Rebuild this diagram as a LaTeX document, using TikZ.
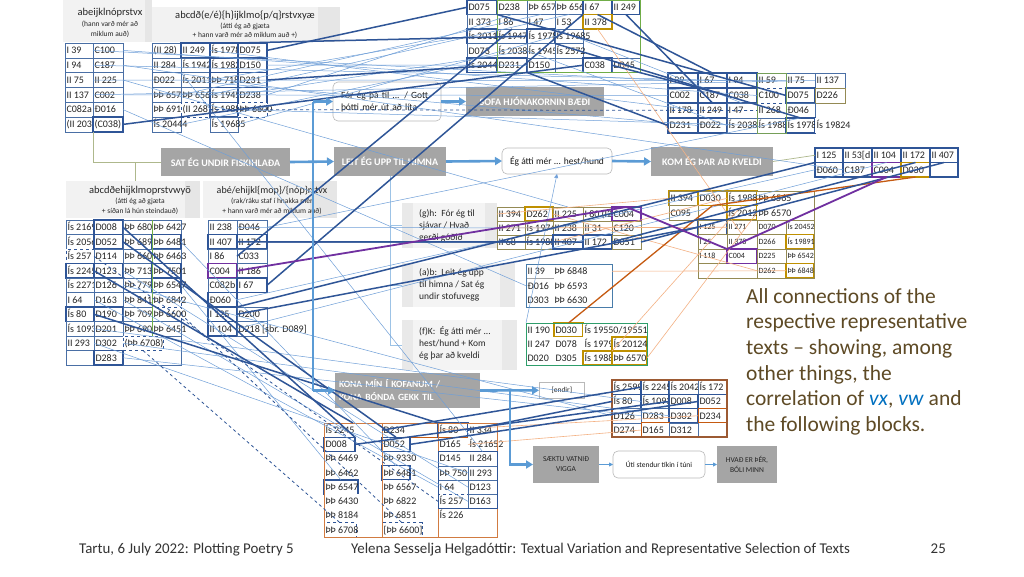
\documentclass[tikz,border=0pt]{standalone}
\usepackage{fontspec}
\setmainfont{Carlito}
\usetikzlibrary{arrows.meta}
\definecolor{dkb}{HTML}{2F5597}
\definecolor{ltb}{HTML}{6F9FD8}
\definecolor{flowb}{HTML}{5B9BD5}
\definecolor{pur}{HTML}{7030A0}
\definecolor{orgk}{HTML}{C55A11}
\definecolor{orgl}{HTML}{F4B183}
\definecolor{goldc}{HTML}{BF9000}
\definecolor{olivec}{HTML}{948A54}
\definecolor{grn}{HTML}{70AD47}
\definecolor{tealc}{HTML}{2E9E6B}
\definecolor{brnc}{HTML}{9C5A33}
\definecolor{procg}{HTML}{A5A5A5}
\definecolor{txtbr}{HTML}{5E4A25}
\definecolor{vxb}{HTML}{0070C0}
\definecolor{celltext}{HTML}{262626}
\definecolor{cellb}{HTML}{4A6FA5}
\definecolor{hdrg}{HTML}{F2F2F2}
\definecolor{hdrs}{HTML}{E6E6E6}
\definecolor{treeg}{HTML}{AEB88C}
\definecolor{treeb}{HTML}{9DC3E6}
\newcommand\tcel[6][]{\node[cell,minimum width=#5pt,#1] (#2) at (#3,#4) {\hbox to \dimexpr#5pt-3pt\relax{\vphantom{Ág}#6\hss}};}
\begin{document}
\begin{tikzpicture}[x=1pt,y=-1pt,
  cell/.style={anchor=north west, draw=cellb, line width=0.5pt, fill=white, minimum height=14.5pt, inner xsep=1.5pt, inner ysep=0pt, outer sep=0pt, font=\fontsize{10}{11}\selectfont, text=celltext},
  ha/.style={minimum height=14.8pt}, hr/.style={minimum height=15pt}, hg/.style={minimum height=14pt},
  hu/.style={minimum height=14.25pt}, hv/.style={minimum height=14.3pt},
  tk/.style={draw=dkb, line width=1.4pt}, gd/.style={draw=goldc, line width=1.2pt},
  pu/.style={draw=pur, line width=1.5pt}, ob/.style={draw=orgk, line width=1pt},
  ds/.style={draw=dkb, line width=0.9pt, dashed}, nb/.style={draw=none},
  ol/.style={draw=olivec, line width=0.5pt}, sm/.style={font=\fontsize{8}{9}\selectfont},
  hdr/.style={anchor=north west, fill=hdrg, draw=none, inner sep=0pt, outer sep=0pt},
  hstrip/.style={anchor=north west, fill=hdrs, draw=none, inner sep=0pt, outer sep=0pt},
  htx/.style={inner sep=0pt, text=celltext, font=\fontsize{10.5}{12}\selectfont},
  hsx/.style={inner sep=0pt, text=celltext, font=\fontsize{7.5}{9}\selectfont},
  gbx/.style={anchor=north west, fill=gray!9, draw=none, inner sep=0pt, outer sep=0pt},
  gst/.style={anchor=north west, fill=gray!17, draw=none, inner sep=0pt, outer sep=0pt},
  btx/.style={anchor=north west, align=left, inner sep=0pt, text=celltext, font=\fontsize{9.5}{12}\selectfont},
  proc/.style={anchor=north west, fill=procg, text=white, inner sep=0pt, outer sep=0pt, font=\bfseries\fontsize{10}{12}\selectfont},
  rbx/.style={anchor=north west, draw=gray!55, line width=0.6pt, rounded corners=5pt, fill=white, inner sep=0pt, outer sep=0pt, text=black!90, font=\fontsize{9.5}{12}\selectfont},
  flow/.style={draw=flowb, line width=2.6pt, -{Triangle[length=7pt,width=8pt]}},
  flowl/.style={draw=flowb, line width=2.6pt},
  sflow/.style={draw=flowb, line width=0.8pt, -{Triangle[length=4pt,width=4pt]}},
  tree/.style={draw=treeg, line width=0.7pt},
  treel/.style={draw=treeb, line width=0.8pt},
  dkl/.style={draw=dkb, line width=1.5pt},
  ltl/.style={draw=ltb, line width=0.5pt},
  dsl/.style={draw=dkb, line width=0.8pt, dashed},
  pul/.style={draw=pur, line width=1.8pt},
  okl/.style={draw=orgk, line width=1.3pt},
  oll/.style={draw=orgl, line width=0.6pt},
  bigt/.style={anchor=base west, inner sep=0pt, text=txtbr, font=\fontsize{21.5}{26}\selectfont},
  foot/.style={inner sep=0pt, text=black!80, font=\fontsize{14.9}{17}\selectfont}
]
\useasboundingbox (0,0) rectangle (1024,576);
\fill[white] (0,0) rectangle (1024,576);

% ---------- headers ----------
\node[hdr, minimum width=82pt, minimum height=42pt] (h1) at (63,0) {};
\node[hstrip, minimum width=7pt, minimum height=42pt] (h1s) at (145,0) {};
\node[htx] (h1a) at (110,13) {abeijklnóprstvx};
\node[hsx] (h1b) at (110,24.5) {(hann varð mér að};
\node[hsx] (h1c) at (110,34) {miklum auð)};
\node[hdr, minimum width=166pt, minimum height=35pt] (h2) at (152,7) {};
\node[hstrip, minimum width=22pt, minimum height=35pt] (h2s) at (318,7) {};
\node[htx] (h2a) at (245,15.5) {abcdð(e/é)\{h\}ijklmo\{p/q\}rstvxyæ};
\node[hsx] (h2b) at (245,26.5) {(átti ég að gjæta};
\node[hsx] (h2c) at (245,35.5) {+ hann varð mér að miklum auð +)};
\node[hdr, minimum width=119pt, minimum height=37pt] (h3) at (66,181) {};
\node[hstrip, minimum width=15pt, minimum height=37pt] (h3s) at (185,181) {};
\node[htx] (h3a) at (140,190.5) {abcdðehijklmoprstvwyö};
\node[hsx] (h3b) at (140,201) {(átti ég að gjæta};
\node[hsx] (h3c) at (140,211) {+ síðan lá hún steindauð)};
\node[hdr, minimum width=107pt, minimum height=37pt] (h4) at (203,181) {};
\node[hstrip, minimum width=27pt, minimum height=37pt] (h4s) at (310,181) {};
\node[htx, font=\fontsize{10}{12}\selectfont] (h4a) at (272,190.5) {abé/ehijkl\{mop\}/\{nóp\}rstvx};
\node[hsx] (h4b) at (272,201) {(rak/ráku staf í hnakka mér};
\node[hsx] (h4c) at (272,211) {+ hann varð mér að miklum auð)};

% ---------- gray text boxes ----------
\node[gbx, minimum width=95pt, minimum height=45pt] (gh) at (402,203) {};
\node[gst, minimum width=11pt, minimum height=45pt] (ghl) at (402,203) {};
\node[gst, minimum width=12pt, minimum height=45pt] (ghr) at (485,203) {};
\node[btx] (ght) at (419,209.5) {(g)h:\ \ Fór ég til\\sjávar / Hvað\\gerði góðið};
\node[gbx, minimum width=113pt, minimum height=44pt] (ab) at (402,263) {};
\node[gst, minimum width=11pt, minimum height=44pt] (abl) at (402,263) {};
\node[gst, minimum width=15pt, minimum height=44pt] (abr) at (500,263) {};
\node[btx] (abt) at (419,268) {(a)b:\ \ Leit ég upp\\til himna / Sat ég\\undir stofuvegg};
\node[gbx, minimum width=115pt, minimum height=50pt] (fk) at (402,320) {};
\node[gst, minimum width=11pt, minimum height=50pt] (fkl) at (402,320) {};
\node[gst, minimum width=15pt, minimum height=50pt] (fkr) at (502,320) {};
\node[btx] (fkt) at (419,326) {(f)K:\ \ Ég átti mér ...\\hest/hund + Kom\\ég þar að kveldi};

% ---------- table a ----------
\tcel[ha]{a11}{65}{43}{28}{I 39}\tcel[ha]{a12}{93}{43}{30}{C100}
\tcel[ha]{a21}{65}{57.8}{28}{I 94}\tcel[ha]{a22}{93}{57.8}{30}{C187}
\tcel[ha]{a31}{65}{72.6}{28}{II 75}\tcel[ha]{a32}{93}{72.6}{30}{II 225}
\tcel[ha]{a41}{65}{87.4}{28}{II 137}\tcel[ha]{a42}{93}{87.4}{30}{C002}
\tcel[ha]{a51}{65}{102.2}{28}{C082a}\tcel[ha]{a52}{93}{102.2}{30}{Ð016}
\tcel[ha]{a61}{65}{117}{28}{(II 203}\tcel[ha,tk]{a62}{93}{117}{30}{(C038)}
% ---------- table b ----------
\tcel[ha]{b11}{152}{43}{29}{(II 28)}\tcel[ha,tk]{b12}{181}{43}{29}{II 249}\tcel[ha,tk]{b13}{210}{43}{28}{Ís 1978}\tcel[ha,tk]{b14}{238}{43}{29}{D075}
\tcel[ha]{b21}{152}{57.8}{29}{II 284}\tcel[ha]{b22}{181}{57.8}{29}{Ís 1942}\tcel[ha,tk]{b23}{210}{57.8}{28}{Ís 1982}\tcel[ha,tk]{b24}{238}{57.8}{29}{D150}
\tcel[ha]{b31}{152}{72.6}{29}{Ð022}\tcel[ha]{b32}{181}{72.6}{29}{Ís 2011}\tcel[ha,tk]{b33}{210}{72.6}{28}{ÞÞ 718}\tcel[ha,tk]{b34}{238}{72.6}{29}{D231}
\tcel[ha]{b41}{152}{87.4}{29}{ÞÞ 657}\tcel[ha]{b42}{181}{87.4}{29}{ÞÞ 656}\tcel[ha,tk]{b43}{210}{87.4}{28}{Ís 1945}\tcel[ha,tk]{b44}{238}{87.4}{29}{D238}
\tcel[ha]{b51}{152}{102.2}{29}{ÞÞ 691}\tcel[ha,ds]{b52}{181}{102.2}{29}{(II 268)}\tcel[ha,tk]{b53}{210}{102.2}{28}{Ís 1988}\tcel[ha,ds]{b54}{238}{102.2}{29}{ÞÞ 6600}
\tcel[ha]{b61}{152}{117}{29}{Ís 20444}\tcel[ha]{b63}{210}{117}{28}{Ís 19685}
% ---------- table m ----------
\tcel[tk]{m11}{467}{0}{30}{D075}\tcel{m12}{497}{0}{30}{D238}\tcel{m13}{527}{0}{28}{ÞÞ 657}\tcel{m14}{555}{0}{28}{ÞÞ 656}\tcel[tk]{m15}{583}{0}{29}{I 67}\tcel[tk]{m16}{612}{0}{28}{II 249}
\tcel{m21}{467}{14.5}{30}{II 373}\tcel{m22}{497}{14.5}{30}{I 86}\tcel{m23}{527}{14.5}{28}{I 47}\tcel{m24}{555}{14.5}{28}{I 53}\tcel[gd]{m25}{583}{14.5}{29}{II 378}
\tcel[tk]{m31}{467}{29}{30}{Ís 2011}\tcel{m32}{497}{29}{30}{Ís 1947}\tcel[tk]{m33}{527}{29}{28}{Ís 1978}\tcel{m34}{555}{29}{28}{Ís 19685}
\tcel{m41}{467}{43.5}{30}{D073}\tcel{m42}{497}{43.5}{30}{Ís 2038}\tcel{m43}{527}{43.5}{28}{Ís 1945}\tcel{m44}{555}{43.5}{28}{Ís 2572}
\tcel[tk]{m51}{467}{58}{30}{Ís 2044}\tcel[tk]{m52}{497}{58}{30}{D231}\tcel{m53}{527}{58}{28}{D150}\tcel[tk]{m55}{583}{58}{29}{C038}\tcel{m56}{612}{58}{28}{D045}
\draw[grn, line width=0.8pt] (m12.north west) rectangle (m56.south east);
% ---------- table r ----------
\tcel[hr,tk]{r11}{668}{73}{30}{I 39}\tcel[hr,tk]{r12}{698}{73}{29}{I 67}\tcel[hr,tk]{r13}{727}{73}{30}{I 94}\tcel[hr]{r14}{757}{73}{29}{II 59}\tcel[hr]{r15}{786}{73}{29}{II 75}\tcel[hr]{r16}{815}{73}{30}{II 137}
\tcel[hr,tk]{r21}{668}{88}{30}{C002}\tcel[hr,tk]{r22}{698}{88}{29}{C187}\tcel[hr,tk]{r23}{727}{88}{30}{C038}\tcel[hr,ds]{r24}{757}{88}{29}{C100}\tcel[hr,tk]{r25}{786}{88}{29}{D075}\tcel[hr,ol]{r26}{815}{88}{30}{D226}
\tcel[hr,tk]{r31}{668}{103}{30}{II 178}\tcel[hr,tk]{r32}{698}{103}{29}{II 249}\tcel[hr]{r33}{727}{103}{30}{I 47}\tcel[hr,ds]{r34}{757}{103}{29}{II 268}\tcel[hr]{r35}{786}{103}{29}{Ð046}
\tcel[hr,tk]{r41}{668}{118}{30}{D231}\tcel[hr,tk]{r42}{698}{118}{29}{Ð022}\tcel[hr]{r43}{727}{118}{30}{Ís 2038}\tcel[hr]{r44}{757}{118}{29}{Ís 1988}\tcel[hr,tk]{r45}{786}{118}{29}{Ís 1978}\tcel[hr,nb]{r46}{815}{118}{30}{Ís 19824}
\draw[grn!70!gray, line width=1pt] (r14.north west) rectangle (r44.south east);
% ---------- table c ----------
\tcel{c11}{66}{220}{28}{Ís 2169}\tcel[tk]{c12}{94}{220}{29}{D008}\tcel{c13}{123}{220}{29}{ÞÞ 680}\tcel{c14}{152}{220}{29}{ÞÞ 6427}
\tcel{c21}{66}{234.5}{28}{Ís 2056}\tcel[tk]{c22}{94}{234.5}{29}{D052}\tcel{c23}{123}{234.5}{29}{ÞÞ 689}\tcel[tk]{c24}{152}{234.5}{29}{ÞÞ 6481}
\tcel[ds]{c31}{66}{249}{28}{Ís 257}\tcel{c32}{94}{249}{29}{D114}\tcel{c33}{123}{249}{29}{ÞÞ 660}\tcel{c34}{152}{249}{29}{ÞÞ 6463}
\tcel[tk]{c41}{66}{263.5}{28}{Ís 2245}\tcel[tk]{c42}{94}{263.5}{29}{D123}\tcel{c43}{123}{263.5}{29}{ÞÞ 713}\tcel[tk]{c44}{152}{263.5}{29}{ÞÞ 7501}
\tcel{c51}{66}{278}{28}{Ís 2271}\tcel{c52}{94}{278}{29}{D126}\tcel{c53}{123}{278}{29}{ÞÞ 779}\tcel[tk]{c54}{152}{278}{29}{ÞÞ 6547}
\tcel{c61}{66}{292.5}{28}{I 64}\tcel{c62}{94}{292.5}{29}{D163}\tcel{c63}{123}{292.5}{29}{ÞÞ 841}\tcel[ds]{c64}{152}{292.5}{29}{ÞÞ 6842}
\tcel[tk]{c71}{66}{307}{28}{Ís 80}\tcel[tk]{c72}{94}{307}{29}{D190}\tcel{c73}{123}{307}{29}{ÞÞ 709}\tcel[ds]{c74}{152}{307}{29}{ÞÞ 6600}
\tcel{c81}{66}{321.5}{28}{Ís 1093}\tcel{c82}{94}{321.5}{29}{D201}\tcel{c83}{123}{321.5}{29}{ÞÞ 690}\tcel{c84}{152}{321.5}{29}{ÞÞ 6451}
\tcel{c91}{66}{336}{28}{II 293}\tcel{c92}{94}{336}{29}{D302}\tcel[ds]{c93}{123}{336}{40}{(ÞÞ 6708)}
\tcel{c101}{66}{350.5}{28}{}\tcel[tk]{c102}{94}{350.5}{29}{D283}
\draw[cellb, line width=0.5pt] (c102.south east) -- (c14.north east |- c102.south) -- (c14.north east |- c93.north);
\draw[grn, line width=0.8pt] (c14.north west) -- (c84.south west);
% ---------- table d ----------
\tcel{d11}{208}{220}{29}{II 238}\tcel{d12}{237}{220}{30}{Ð046}
\tcel[tk]{d21}{208}{234.5}{29}{II 407}\tcel[tk]{d22}{237}{234.5}{30}{II 172}
\tcel{d31}{208}{249}{29}{I 86}\tcel{d32}{237}{249}{30}{C033}
\tcel[pu]{d41}{208}{263.5}{29}{C004}\tcel{d42}{237}{263.5}{30}{II 186}
\tcel{d51}{208}{278}{29}{C082b}\tcel[tk]{d52}{237}{278}{30}{I 67}
\tcel[tk]{d61}{208}{292.5}{29}{Ð060}
\tcel[tk]{d71}{208}{307}{29}{I 125}\tcel{d72}{237}{307}{30}{D200}
\tcel[tk]{d81}{208}{321.5}{29}{II 104}\tcel{d82}{237}{321.5}{30}{D218 [sbr. D089]}
% ---------- table g ----------
\tcel[hg,ol]{g11}{497}{207}{28}{II 394}\tcel[hg,gd]{g12}{525}{207}{28}{D262}\tcel[hg,ol]{g13}{553}{207}{30}{II 225}\tcel[hg,ol]{g14}{583}{207}{29}{I 80 (I2}\tcel[hg,pu]{g15}{612}{207}{29}{C004}
\tcel[hg,ol]{g21}{497}{221}{28}{II 271}\tcel[hg,ol]{g22}{525}{221}{28}{Ís 1974}\tcel[hg,ol]{g23}{553}{221}{30}{II 238}\tcel[hg,ol]{g24}{583}{221}{29}{II 31}\tcel[hg,ol]{g25}{612}{221}{29}{C120}
\tcel[hg,ol]{g31}{497}{235}{28}{II 68}\tcel[hg,ol]{g32}{525}{235}{28}{Ís 1988}\tcel[hg,tk]{g33}{553}{235}{30}{II 407}\tcel[hg,tk]{g34}{583}{235}{29}{II 172}\tcel[hg,ol]{g35}{612}{235}{29}{D051}
% ---------- table e ----------
\tcel[draw=gray!70]{e11}{526}{264}{27}{II 39}\tcel[nb]{e12}{553}{264}{59}{ÞÞ 6848}
\tcel[draw=gray!70]{e21}{526}{278.5}{27}{Ð016}\tcel[nb]{e22}{553}{278.5}{59}{ÞÞ 6593}
\tcel[nb]{e31}{526}{293}{27}{D303}\tcel[nb]{e32}{553}{293}{59}{ÞÞ 6630}
\draw[flowb!80!black, line width=0.9pt] (e11.north west) rectangle (e32.south east);
% ---------- table f ----------
\tcel[hg,nb]{f11}{526}{323}{28}{II 190}\tcel[hg,gd]{f12}{554}{323}{29}{D030}\tcel[hg,nb]{f13}{583}{323}{64}{Ís 19550/19551}
\tcel[hg,nb]{f21}{526}{337}{28}{II 247}\tcel[hg,nb]{f22}{554}{337}{29}{D078}\tcel[hg,nb]{f23}{583}{337}{29}{Ís 1979}\tcel[hg,gd]{f24}{612}{337}{35}{Ís 20124}
\tcel[hg,nb]{f31}{526}{351}{28}{D020}\tcel[hg,nb]{f32}{554}{351}{29}{D305}\tcel[hg,gd]{f33}{583}{351}{29}{Ís 1988}\tcel[hg,gd]{f34}{612}{351}{35}{ÞÞ 6570}
\draw[tealc, line width=0.9pt] (f11.north west) rectangle (f34.south east);
% ---------- table t ----------
\tcel[tk]{t11}{815}{148}{28}{I 125}\tcel[tk]{t12}{843}{148}{29}{II 53[d}\tcel[tk]{t13}{872}{148}{29}{II 104}\tcel[tk]{t14}{901}{148}{29}{II 172}\tcel[tk]{t15}{930}{148}{28}{II 407}
\tcel[tk]{t21}{815}{162.5}{28}{Ð060}\tcel[tk]{t22}{843}{162.5}{29}{C187}\tcel[pu]{t23}{872}{162.5}{29}{C004}\tcel[gd]{t24}{901}{162.5}{29}{D030}\tcel[tk]{t25}{930}{162.5}{28}{}
% ---------- table s ----------
\tcel[gd]{s11}{669}{191}{29}{II 394}\tcel[gd,line width=1.6pt]{s12}{698}{191}{29}{D030}\tcel[gd]{s13}{727}{191}{30}{Ís 1988}\tcel[nb]{s14}{757}{191}{57}{ÞÞ 6565}
\tcel[ol]{s21}{669}{205.5}{29}{C095}\tcel[gd]{s23}{727}{205.5}{30}{Ís 2012}\tcel[nb]{s24}{757}{205.5}{57}{ÞÞ 6570}
\tcel[sm,tk]{s32}{698}{220}{29}{I 125}\tcel[sm,ol]{s33}{727}{220}{30}{II 271}\tcel[sm,ol]{s34}{757}{220}{29}{D070}\tcel[sm,ol]{s35}{786}{220}{28}{Ís 20452}
\tcel[sm,ol]{s42}{698}{234.5}{29}{I 25}\tcel[sm,ol]{s43}{727}{234.5}{30}{II 378}\tcel[sm,ol]{s44}{757}{234.5}{29}{D266}\tcel[sm,gd]{s45}{786}{234.5}{28}{Ís 19891}
\tcel[sm,ol]{s52}{698}{249}{29}{I 118}\tcel[sm,pu]{s53}{727}{249}{30}{C004}\tcel[sm,ol]{s54}{757}{249}{29}{D225}\tcel[sm,ol]{s55}{786}{249}{28}{ÞÞ 6542}
\tcel[sm,ol]{s64}{757}{263.5}{29}{D262}\tcel[sm,gd]{s65}{786}{263.5}{28}{ÞÞ 6848}
\draw[olivec, line width=1pt] (s11.north west) rectangle (s24.south east);
\draw[olivec, line width=1pt] (s32.north west) rectangle (s65.south east);
% ---------- table u ----------
\tcel[hu,nb]{u11}{324}{423}{58}{Ís 2245}\tcel[hu,ob]{u12}{382}{423}{56}{D234}\tcel[hu,tk]{u13}{438}{423}{30}{Ís 80}\tcel[hu,nb]{u14}{468}{423}{29}{II 334}
\tcel[hu,tk]{u21}{324}{437.25}{31}{D008}\tcel[hu,tk]{u22}{382}{437.25}{28}{D052}\tcel[hu,ob]{u23}{438}{437.25}{30}{D165}\tcel[hu,nb]{u24}{468}{437.25}{29}{Ís 21652}
\tcel[hu,nb]{u31}{324}{451.5}{58}{ÞÞ 6469}\tcel[hu,nb]{u32}{382}{451.5}{56}{ÞÞ 9330}\tcel[hu,nb]{u33}{438}{451.5}{30}{D145}\tcel[hu,nb]{u34}{468}{451.5}{29}{II 284}
\tcel[hu,nb]{u41}{324}{465.75}{58}{ÞÞ 6462}\tcel[hu,tk]{u42}{382}{465.75}{28}{ÞÞ 6481}\tcel[hu]{u43}{438}{465.75}{30}{ÞÞ 750}\tcel[hu]{u44}{468}{465.75}{29}{II 293}
\tcel[hu,tk]{u51}{324}{480}{34}{ÞÞ 6547}\tcel[hu,nb]{u52}{382}{480}{56}{ÞÞ 6567}\tcel[hu]{u53}{438}{480}{30}{I 64}\tcel[hu]{u54}{468}{480}{29}{D123}
\tcel[hu,nb]{u61}{324}{494.25}{58}{ÞÞ 6430}\tcel[hu,nb]{u62}{382}{494.25}{56}{ÞÞ 6822}\tcel[hu,ds]{u63}{438}{494.25}{30}{Ís 257}\tcel[hu]{u64}{468}{494.25}{29}{D163}
\tcel[hu,nb]{u71}{324}{508.5}{58}{ÞÞ 8184}\tcel[hu,nb]{u72}{382}{508.5}{56}{ÞÞ 6851}\tcel[hu,nb]{u73}{438}{508.5}{30}{Ís 226}
\tcel[hu,ds]{u81}{324}{522.75}{32}{ÞÞ 6708}\tcel[hu,ds]{u82}{382}{522.75}{40}{[ÞÞ 6600]}
\draw[orgk!80, line width=0.9pt] (u11.north west) rectangle (u14.north east |- u81.south);
\draw[orgk!80, line width=0.9pt] (u12.north west) -- (u12.north west |- u81.south);
\draw[orgk!80, line width=0.9pt] (u13.north west) -- (u13.north west |- u81.south);
\draw[dkb, line width=0.9pt] (u33.north west) rectangle (u64.south east);
% ---------- table v ----------
\tcel[hv]{v11}{612}{380}{29}{Ís 2599}\tcel[hv,tk]{v12}{641}{380}{28}{Ís 2245}\tcel[hv]{v13}{669}{380}{29}{Ís 2042}\tcel[hv]{v14}{698}{380}{29}{Ís 172}
\tcel[hv,tk]{v21}{612}{394.3}{29}{Ís 80}\tcel[hv,tk]{v22}{641}{394.3}{28}{Ís 1093}\tcel[hv,tk]{v23}{669}{394.3}{29}{D008}\tcel[hv,tk]{v24}{698}{394.3}{29}{D052}
\tcel[hv]{v31}{612}{408.6}{29}{D126}\tcel[hv]{v32}{641}{408.6}{28}{D283}\tcel[hv,tk]{v33}{669}{408.6}{29}{D302}\tcel[hv,ob]{v34}{698}{408.6}{29}{D234}
\tcel[hv]{v41}{612}{422.9}{29}{D274}\tcel[hv,ob]{v42}{641}{422.9}{28}{D165}\tcel[hv]{v43}{669}{422.9}{29}{D312}
\draw[brnc, line width=1.6pt] (v11.north west) rectangle (v14.north east |- v41.south);

% ---------- process boxes ----------
\node[proc, minimum width=129pt, minimum height=28pt] (SAT) at (161,148) {SAT ÉG UNDIR FISKIHLAÐA};
\node[proc, minimum width=112pt, minimum height=29pt] (LEIT) at (334,147) {LEIT ÉG UPP TIL HIMNA};
\node[proc, minimum width=122pt, minimum height=29pt] (KOM) at (651,147) {KOM ÉG ÞAR AÐ KVELDI};
\node[proc, minimum width=138pt, minimum height=29pt] (SOFA) at (466,87) {SOFA HJÓNAKORNIN BÆÐI};
\node[proc, minimum width=145pt, minimum height=35pt, align=left, text width=137pt, font=\bfseries\fontsize{9.5}{13}\selectfont] (KONA) at (335,373) {KONA MÍN Í KOFANUM /\\KONA BÓNDA GEKK TIL};
\node[proc, minimum width=66pt, minimum height=37pt, align=center, text=black!85, font=\fontsize{7.5}{10}\selectfont] (SAEK) at (533,446) {SÆKTU VATNIÐ\\VIGGA};
\node[proc, minimum width=60pt, minimum height=37pt, align=center, text=black!85, font=\fontsize{7.5}{10}\selectfont] (HVAD) at (717,446) {HVAÐ ER ÞÉR,\\BÓLI MINN};
\node[rbx, minimum width=108pt, minimum height=39pt, align=left, text width=92pt] (FOR) at (333,82) {Fór ég þá til ... / Gott\\þótti mér út að líta};
\node[rbx, minimum width=110pt, minimum height=26pt] (EG) at (502,148) {Ég átti mér ... hest/hund};
\node[rbx, minimum width=92pt, minimum height=27pt, font=\fontsize{7.5}{9}\selectfont] (UTI) at (613,451) {Úti stendur tíkin í túni};
\node[anchor=north west, draw=gray!55, line width=0.6pt, fill=white, inner sep=0pt, minimum width=45pt, minimum height=16pt, font=\fontsize{7.5}{9}\selectfont, text=black!85] (END) at (539,382) {[endir]};

% ---------- tree lines ----------
\coordinate (tj) at (135,162);
\draw[tree] (a61.south east) |- (SAT.west);
\draw[tree] (tj) -- (tj |- h3.north);
\draw[treel] (LEIT.south) |- (gh.west);
\draw[treel] (LEIT.south) |- (ab.west);
\draw[treel] (LEIT.south) |- (fk.west);
\draw[tree] (KOM.east) -- (t11.west);
\draw[ltl, -{Triangle[length=4pt,width=4pt]}] (f11.north west) -- (EG.south);

% ---------- thin connectors ----------
\draw[ltl] (a11.east) -- (r11.west);
\draw[ltl] (a21.east) -- (r13.west);
\draw[ltl] (a31.east) -- (r15.west);
\draw[ltl] (a41.east) -- (r16.west);
\draw[ltl] (a12.east) -- (r24.west);
\draw[ltl] (a22.east) -- (t22.west);
\draw[ltl] (a42.east) -- (r21.west);
\draw[ltl] (a32.east) -- (g13.north);
\draw[ltl] (a52.east) -- (e21.west);
\draw[ltl] (b12.east) -- (r32.west);
\draw[ltl] (b32.east) -- (m31.west);
\draw[ltl] (b41.east) -- (m13.south);
\draw[ltl] (b42.east) -- (m14.south);
\draw[ltl] (b43.east) -- (m43.west);
\draw[ltl] (b44.east) -- (m12.south);
\draw[ltl] (b63.east) -- (m34.west);
\draw[ltl] (b61.east) -- (m51.west);
\draw[ltl] (b24.east) -- (m53.west);
\draw[ltl] (b31.east) -- (r42.west);
\draw[ltl] (b53.east) -- (r44.west);
\draw[ltl] (b21.south east) -- (u34.north);
\draw[ltl] (m23.south east) -- (r33.north);
\draw[ltl] (m42.east) -- (r43.west);
\draw[ltl] (d11.east) -- (g23.west);
\draw[ltl] (d12.east) -- (r35.south);
\draw[ltl] (d61.east) -- (t21.west);
\draw[ltl] (d81.east) -- (t13.south);
\draw[ltl] (c61.east) -- (u53.west);
\draw[ltl] (c42.east) -- (u54.west);
\draw[ltl] (c62.east) -- (u64.west);
\draw[ltl] (c91.east) -- (u44.west);
\draw[ltl] (c24.east) -- (u42.north);
\draw[ltl] (c54.east) -- (u51.north);
\draw[ltl] (c81.east) -- (v22.west);
\draw[ltl] (c92.east) -- (v33.west);
\draw[ltl] (c102.east) -- (v32.west);
\draw[ltl] (c52.east) -- (v31.west);
\draw[dsl] (b52.east) -- (r34.west);
\draw[dsl] (c31.east) -- (u63.west);
\draw[dsl] (c93.south) -- (u81.north);
\draw[dsl] (c74.east) -- (u82.north);
% ---------- orange ----------
\draw[oll] (m25.south) -- (s43.north);
\draw[oll] (g11.west) -- (s11.west);
\draw[oll] (g21.west) -- (s33.west);
\draw[oll] (g12.east) -- (s64.west);
\draw[oll] (g32.east) -- (s13.west);
\draw[oll] (e12.east) -- (s65.west);
\draw[oll] (f34.east) -- (s24.west);
\draw[oll] (f33.north east) -- (s13.south);
\draw[oll] (u12.east) -- (v34.west);
\draw[oll] (u23.east) -- (v42.west);
\draw[okl] (f12.north) -- (s12.south) -- (t24.south);
% ---------- thick dark ----------
\draw[dkl] (b14.east) -- (m11.west);
\draw[dkl] (b13.north east) -- (m33.west);
\draw[dkl] (b34.east) -- (m52.west);
\draw[dkl] (a62.east) -- (m55.west);
\draw[dkl] (m11.south east) -- (r25.west);
\draw[dkl] (m15.south) -- (r12.north);
\draw[dkl] (m16.south) -- (r32.north);
\draw[dkl] (m52.south east) -- (r41.west);
\draw[dkl] (m55.east) -- (r23.west);
\draw[dkl] (m33.south east) -- (r45.north);
\draw[dkl] (m22.south) -- (d31.east);
\draw[dkl] (m15.south west) -- (d52.east);
\draw[dkl] (d21.east) -- (g33.west);
\draw[dkl] (d22.east) -- (g34.west);
\draw[dkl] (g34.east) -- (t14.south);
\draw[dkl] (g35.east) -- (t15.south);
\draw[dkl] (d71.east) -- (s32.west);
\draw[dkl] (d71.north east) -- (t11.south west);
\draw[dkl] (c12.east) -- (u21.north east);
\draw[dkl] (c22.east) -- (u22.north);
\draw[dkl] (c41.east) -- (u11.north);
\draw[dkl] (c71.east) -- (u13.north west);
\draw[dkl] (u21.east) -- (v23.west);
\draw[dkl] (u22.east) -- (v24.west);
\draw[dkl] (u13.east) -- (v21.west);
\draw[dkl] (u11.east) -- (v12.west);
\draw[pul] (d41.east) -- (g15.north) -- (s53.north west) -- (t23.south);

% ---------- flow arrows ----------
\coordinate (tr1) at (313,101.5);
\coordinate (tr2) at (313,390.5);
\coordinate (br1) at (510,390.5);
\draw[flowl] (tr1) -- (tr2);
\draw[flow] (tr1) -- (FOR.west);
\draw[flow] (tr2) -- (KONA.west);
\draw[flow] (SAT.east) -- (LEIT.west);
\draw[flow] (LEIT.east) -- (EG.west);
\draw[flow] (EG.east) -- (KOM.west);
\draw[flow] (FOR.east) -- (SOFA.west);
\draw[flow] (KONA.east) -- (END.west);
\draw[flow] (br1) |- (SAEK.west);
\draw[sflow] (SAEK.east) -- (UTI.west);
\draw[sflow] (UTI.east) -- (HVAD.west);

% ---------- big text ----------
\node[bigt] (bt1) at (746,303) {All connections of the};
\node[bigt] (bt2) at (746,328.7) {respective representative};
\node[bigt] (bt3) at (746,354.4) {texts – showing, among};
\node[bigt] (bt4) at (746,380.1) {other things, the};
\node[bigt] (bt5) at (746,405.8) {correlation of \textcolor{vxb}{\textit{vx}}, \textcolor{vxb}{\textit{vw}} and};
\node[bigt] (bt6) at (746,431.5) {the following blocks.};

% ---------- footer ----------
\node[foot, anchor=base west] (ft1) at (79,553) {Tartu, 6 July 2022: Plotting Poetry 5};
\node[foot, anchor=base west] (ft2) at (351,553) {Yelena Sesselja Helgadóttir: Textual Variation and Representative Selection of Texts};
\node[foot, anchor=base east] (ft3) at (946,553) {25};
\end{tikzpicture}
\end{document}
